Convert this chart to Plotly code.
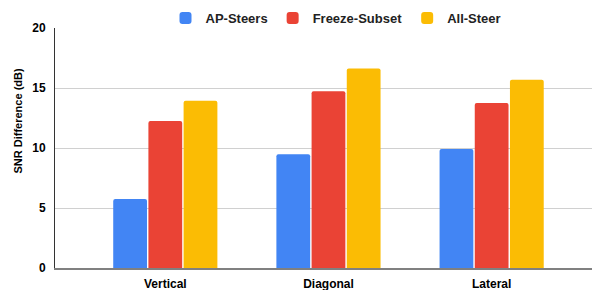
import plotly.graph_objects as go

categories = ["Vertical", "Diagonal", "Lateral"]
series_names = ["AP-Steers", "Freeze-Subset", "All-Steer"]
ap_steers = [5.75, 9.47, 9.92]
freeze_subset = [12.25, 14.72, 13.75]
all_steer = [13.94, 16.63, 15.69]
colors = ["#4285F4", "#EA4335", "#FBBC04"]
y_ticks = [0, 5, 10, 15, 20]

fig = go.Figure()
for name, vals, col in zip(series_names, [ap_steers, freeze_subset, all_steer], colors):
    fig.add_trace(go.Bar(x=categories, y=vals, name=name,
                         marker=dict(color=col, line=dict(width=0))))

font_family = "Liberation Sans, Arial, sans-serif"
fig.update_layout(
    width=592, height=290,
    margin=dict(l=55, r=0, t=28, b=22, autoexpand=False),
    paper_bgcolor="white", plot_bgcolor="white",
    barmode="group", bargap=0.353, bargroupgap=0.04,
    barcornerradius=2,
    font=dict(family=font_family, size=12, color="#000"),
    showlegend=True,
    legend=dict(orientation="h", xref="container", yref="container",
                x=336/592, xanchor="center", y=1-3/290, yanchor="top",
                font=dict(size=13, color="#222", family=font_family, weight="bold"),
                bgcolor="rgba(0,0,0,0)", borderwidth=0),
    xaxis=dict(type="category", range=[-0.676, 2.615], showgrid=False,
               showline=True, linecolor="#808080", linewidth=2,
               ticks="", ticklabelstandoff=4, automargin=False,
               tickfont=dict(size=12, color="#000", family=font_family, weight="bold")),
    yaxis=dict(range=[0, 20], tickvals=y_ticks, showgrid=True, gridcolor="#d0d0d0",
               gridwidth=1, zeroline=False, showline=True, linecolor="#333",
               linewidth=1, ticks="", ticklabelstandoff=6, automargin=False,
               tickfont=dict(size=12, color="#000", family=font_family, weight="bold")),
    annotations=[dict(text="SNR Difference (dB)", textangle=-90, xref="paper", yref="paper",
                      x=-(55-17.5)/537, y=(268-121)/240, xanchor="center", yanchor="middle",
                      showarrow=False,
                      font=dict(size=11, color="#000", family=font_family, weight="bold"))],
)

fig.write_html("out.html", config={"displayModeBar": False},
               post_script="document.body.style.margin='0';document.body.style.overflow='hidden';")
